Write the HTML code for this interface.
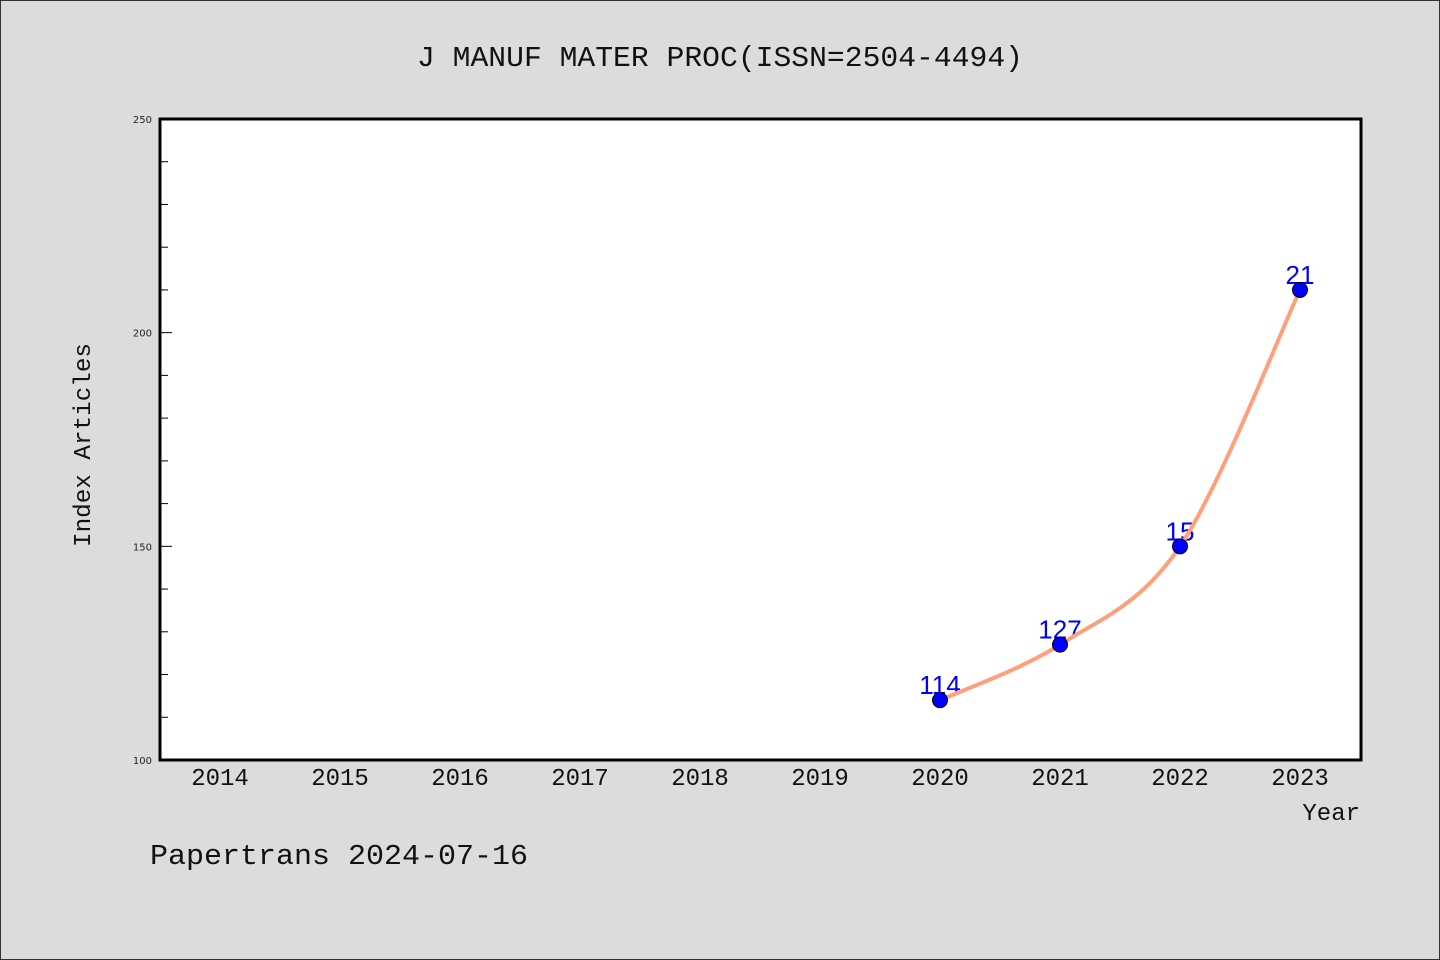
<!DOCTYPE html>
<html><head><meta charset="utf-8"><style>
html,body{margin:0;padding:0;background:#dcdcdc;}
svg{display:block;}
</style></head><body>
<svg id="chart" width="1440" height="960" xmlns="http://www.w3.org/2000/svg">
<rect x="0.5" y="0.5" width="1439" height="959" fill="#dcdcdc" stroke="#333" stroke-width="1"/>
<text x="720" y="66" text-anchor="middle" font-family="'Liberation Mono','WenQuanYi Zen Hei',monospace" font-size="29" fill="#111" textLength="606" lengthAdjust="spacingAndGlyphs">J MANUF MATER PROC(ISSN=2504-4494)</text>
<rect x="160" y="119" width="1201" height="641" fill="#fff"/>
<g id="yticks"></g>
<g id="xticks"></g>
<g id="series"></g>
<path d="M160,119 H1361 V760 H160 Z" fill="none" stroke="#000" stroke-width="3"/>
<text transform="translate(90,445) rotate(-90)" text-anchor="middle" font-family="'Liberation Mono','WenQuanYi Zen Hei',monospace" font-size="24" fill="#111" textLength="204" lengthAdjust="spacingAndGlyphs">Index Articles</text>
<text x="1360" y="820" text-anchor="end" font-family="'Liberation Mono','WenQuanYi Zen Hei',monospace" font-size="24" fill="#111">Year</text>
<text x="150" y="864" font-family="'Liberation Mono','WenQuanYi Zen Hei',monospace" font-size="29" fill="#111" textLength="378" lengthAdjust="spacingAndGlyphs">Papertrans 2024-07-16</text>
</svg>
<script>
const years = ["2014","2015","2016","2017","2018","2019","2020","2021","2022","2023"];
const seriesYears = ["2020","2021","2022","2023"];
const seriesValues = [114, 127, 150, 210];
const valueLabels = ["114", "127", "15", "21"];
const yTickLabels = [100, 150, 200, 250];

const NS = "http://www.w3.org/2000/svg";
const X0 = 220, XSTEP = 120, YMIN = 100, YMAX = 250, PT = 119, PB = 760;
function xScale(cat){ return X0 + years.indexOf(cat) * XSTEP; }
function yScale(v){ return PB - (v - YMIN) / (YMAX - YMIN) * (PB - PT); }
function mk(tag, attrs){ const e = document.createElementNS(NS, tag); for (const k in attrs) e.setAttribute(k, attrs[k]); return e; }

const yg = document.getElementById("yticks");
for (let v = YMIN + 10; v < YMAX; v += 10) {
  const y = yScale(v);
  const major = yTickLabels.includes(v);
  const t = mk("line", {x1:160, x2: major ? 172 : 168, y1:y, y2:y, stroke:"#000", "stroke-width":1});
  
  
  yg.appendChild(t);
}
yTickLabels.forEach(v => {
  const t = mk("text", {x:152, y:yScale(v)+4, "text-anchor":"end", "font-family":"'DejaVu Sans',sans-serif", "font-size":10, fill:"#222"});
  t.textContent = v;
  
  
  yg.appendChild(t);
});

const xg = document.getElementById("xticks");
years.forEach(c => {
  const t = mk("text", {x:xScale(c), y:785, "text-anchor":"middle", "font-family":"'Liberation Mono','WenQuanYi Zen Hei',monospace", "font-size":24, fill:"#111"});
  t.textContent = c;
  
  
  xg.appendChild(t);
});

const sg = document.getElementById("series");
const pts = seriesYears.map((c,i) => [xScale(c), yScale(seriesValues[i])]);
pts.forEach((p,i) => {
  const t = mk("text", {x:p[0], y:p[1]-6, "text-anchor":"middle", "font-family":"'Liberation Sans',sans-serif", "font-size":26, fill:"#0000ff"});
  t.textContent = valueLabels[i];
  
  
  sg.appendChild(t);
});
let d = "M" + pts[0][0] + "," + pts[0][1];
for (let i = 0; i < pts.length - 1; i++) {
  const p0 = pts[Math.max(0,i-1)], p1 = pts[i], p2 = pts[i+1], p3 = pts[Math.min(pts.length-1,i+2)];
  const c1x = p1[0] + (p2[0]-p0[0])/6, c1y = p1[1] + (p2[1]-p0[1])/6;
  const c2x = p2[0] - (p3[0]-p1[0])/6, c2y = p2[1] - (p3[1]-p1[1])/6;
  d += " C" + c1x + "," + c1y + " " + c2x + "," + c2y + " " + p2[0] + "," + p2[1];
}
const line = mk("path", {d:d, fill:"none", stroke:"#ffa07a", "stroke-width":4, "stroke-linecap":"round"});


sg.appendChild(line);
pts.forEach(p => {
  const c = mk("circle", {cx:p[0], cy:p[1], r:7.5, fill:"#0000ff", stroke:"#000", "stroke-width":1});
  
  
  sg.appendChild(c);
});
</script>
</body></html>
